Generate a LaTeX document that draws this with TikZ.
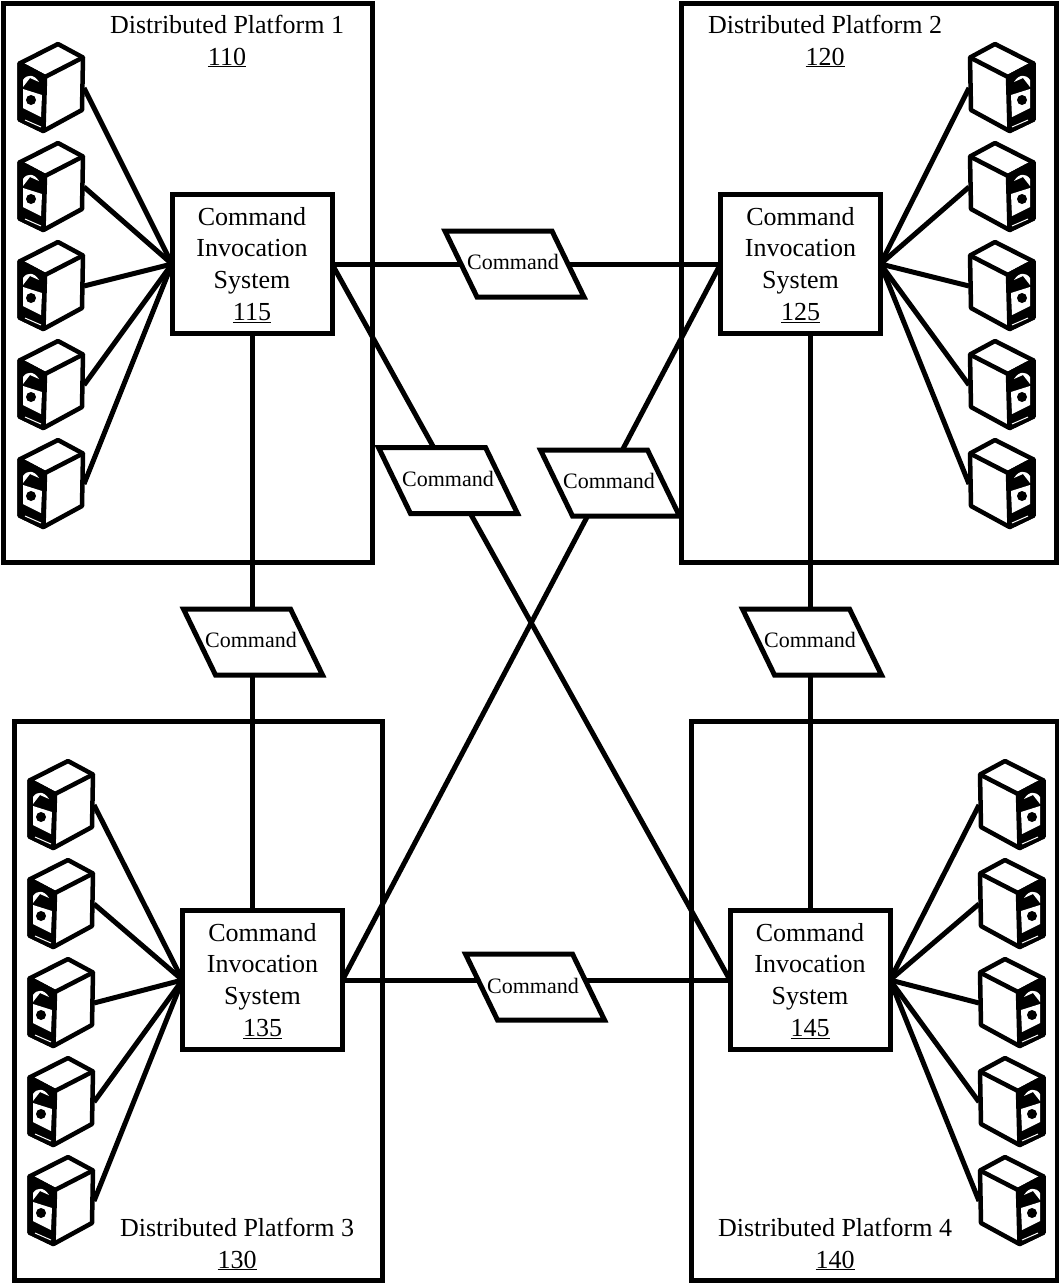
\documentclass[tikz,border=0pt]{standalone}
\usepackage{fontspec}
\setmainfont{Liberation Serif}
\usetikzlibrary{backgrounds}
\tikzset{
  x=1pt,y=-1pt,
  every node/.style={inner sep=0pt,outer sep=0pt},
  heavy/.style={draw=black,line width=5pt},
  link/.style={draw=black,line width=5pt},
  platform/.style={heavy,rectangle,anchor=north west},
  cis/.style={heavy,rectangle,fill=white,minimum width=160pt,minimum height=139pt},
  cistext/.style={yshift=-0.7pt,align=center,font=\fontsize{26}{31.7}\selectfont},
  title/.style={align=center,font=\fontsize{26}{32}\selectfont},
  cmdshape/.style={heavy,fill=white,line join=miter},
  cmdtext/.style={font=\fontsize{22}{26}\selectfont},
  server/.pic={
    \path[draw=black,fill=white,line width=4.5pt,line join=round]
      (1.5,20.5)--(40,1)--(65,14.5)--(64,67)--(25.5,88)--(1.5,76.5)--cycle;
    \path[draw=black,fill=black,line width=4.5pt,line join=round]
      (1.5,20.5)--(27,34)--(25.5,88)--(1.5,76.5)--cycle;
    \draw[black,line width=4.5pt,line join=round] (1.5,20.5)--(27,34)--(65,14.5);
    \fill[white] (5,46)--(24,52)--(23,74)--(5,65)--cycle;
    \fill[white] (5,37) .. controls (9,31) and (16,31) .. (21,39) -- (12,35) -- (5,44) -- cycle;
    \fill[black] (13,57) circle[radius=5];
    \draw[white,line width=1pt] (7,77)--(23,84);
    \coordinate (-port) at (66,45);
  }
}
% name, polygon centre, text centre
\newcommand{\cmdbox}[3]{%
  \path[cmdshape,shift={(#2)}] (-69.5,-33)--(37.5,-33)--(69.5,33)--(-37.5,33)--cycle;
  \node[cmdtext] (#1) at (#3) {Command};
}
\begin{document}
\begin{tikzpicture}
\useasboundingbox (0,0) rectangle (1059,1283);
% platforms
\node[platform,minimum width=369pt,minimum height=559pt] (p1) at (3,3) {};
\node[platform,minimum width=375pt,minimum height=559pt] (p2) at (681,3) {};
\node[platform,minimum width=368pt,minimum height=559pt] (p3) at (14,721) {};
\node[platform,minimum width=366pt,minimum height=559pt] (p4) at (691,721) {};
% systems
\node[cis] (c115) at (252,264) {};
\node[cistext] (t115) at (252,264) {Command\\Invocation\\System\\\underline{115}};
\node[cis] (c125) at (800.5,264) {};
\node[cistext] (t125) at (800.5,264) {Command\\Invocation\\System\\\underline{125}};
\node[cis] (c135) at (262.5,980) {};
\node[cistext] (t135) at (262.5,980) {Command\\Invocation\\System\\\underline{135}};
\node[cis] (c145) at (810,980) {};
\node[cistext] (t145) at (810,980) {Command\\Invocation\\System\\\underline{145}};
% command messages
\cmdbox{mtop}{514.5,264}{513,262}
\cmdbox{mbot}{535,987}{533,986}
\cmdbox{mleft}{253,642}{251,640}
\cmdbox{mright}{812,642}{810,640}
\cmdbox{mdiaga}{448,480.5}{448,479}
\cmdbox{mdiagb}{610,483}{609,481}
% servers
\foreach \n/\y in {1/43,2/142,3/241,4/340,5/439}{
  \pic (sa\n) at (18,\y) {server};
  \pic[xscale=-1] (sb\n) at (1035,\y) {server};
}
\foreach \n/\y in {1/760,2/859,3/958,4/1057,5/1156}{
  \pic (sc\n) at (28,\y) {server};
  \pic[xscale=-1] (sd\n) at (1045,\y) {server};
}
% connectors
\begin{scope}[on background layer]
\foreach \n in {1,...,5}{
  \draw[link] (sa\n-port) -- (c115.west);
  \draw[link] (sb\n-port) -- (c125.east);
  \draw[link] (sc\n-port) -- (c135.west);
  \draw[link] (sd\n-port) -- (c145.east);
}
\draw[link] (c115.east) -- (mtop |- c115.east) -- (c125.west);
\draw[link] (c135.east) -- (mbot |- c135.east) -- (c145.west);
\draw[link] (c115.south) -- (c115.south |- mleft) -- (c115.south |- c135.north);
\draw[link] (c145.north |- c125.south) -- (c145.north |- mright) -- (c145.north);
\draw[link] (c115.east) -- ([xshift=4pt,yshift=-1.5pt]mdiaga.center) -- (c145.west);
\draw[link] (c125.west) -- ([xshift=-4pt,yshift=-2pt]mdiagb.center) -- (c135.east);
\end{scope}
% titles
\node[title] (t1) at (227,41) {Distributed Platform 1\\\underline{110}};
\node[title] (t2) at (825,41) {Distributed Platform 2\\\underline{120}};
\node[title] (t3) at (237,1244) {Distributed Platform 3\\\underline{130}};
\node[title] (t4) at (835,1244) {Distributed Platform 4\\\underline{140}};
\end{tikzpicture}
\end{document}
